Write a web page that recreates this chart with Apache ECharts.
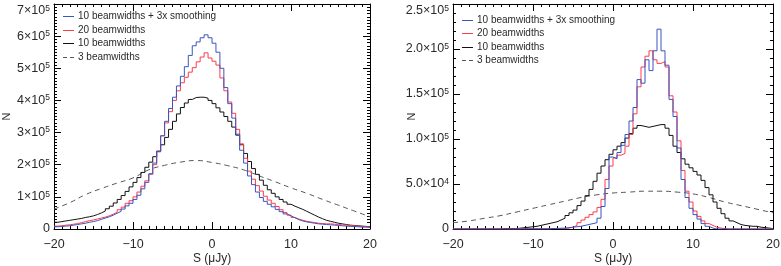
<!DOCTYPE html>
<html lang="en">
<head>
    <meta charset="UTF-8">
    <title>source counts</title>
    <script type="text/javascript" src="https://cdn.jsdelivr.net/npm/echarts@6/dist/echarts.min.js"></script>
</head>
<body style="margin:0">
    <div id="main" style="width: 781px; height: 266px"></div>
    <script type="text/javascript">
        // histogram bins: 0.5 uJy wide, from -20 to 20; values in units of 1e5
        var binStart = -20, binWidth = 0.5;
        var names = ['10 beamwidths + 3x smoothing', '20 beamwidths', '10 beamwidths', '3 beamwidths'];

        var leftBlue = [0.07,0.08,0.09,0.10,0.12,0.14,0.16,0.18,0.21,0.23,0.26,0.30,0.34,0.38,0.43,0.49,0.55,0.62,0.72,0.80,
            0.92,1.05,1.25,1.45,1.72,2.05,2.42,2.90,3.35,3.75,4.10,4.45,4.75,5.05,5.40,5.70,5.82,5.95,6.04,5.95,
            5.78,5.50,5.00,4.40,3.90,3.45,2.95,2.45,2.05,1.65,1.38,1.15,0.98,0.86,0.77,0.69,0.61,0.54,0.47,0.41,
            0.35,0.29,0.25,0.22,0.20,0.18,0.16,0.15,0.14,0.13,0.12,0.11,0.10,0.09,0.08,0.08,0.07,0.06,0.06,0.05];
        var leftRed = [0.09,0.10,0.12,0.13,0.15,0.17,0.20,0.23,0.26,0.28,0.31,0.34,0.37,0.41,0.46,0.52,0.60,0.68,0.80,0.88,
            1.00,1.15,1.33,1.50,1.70,2.00,2.40,2.90,3.30,3.65,4.00,4.30,4.55,4.72,4.88,5.02,5.20,5.35,5.48,5.32,
            5.22,5.10,4.70,4.30,3.95,3.60,3.10,2.65,2.20,1.80,1.55,1.35,1.18,1.02,0.90,0.80,0.70,0.60,0.51,0.43,
            0.36,0.31,0.27,0.24,0.22,0.20,0.18,0.17,0.16,0.16,0.15,0.14,0.13,0.12,0.11,0.10,0.09,0.08,0.07,0.07];
        var leftBlack = [0.21,0.23,0.25,0.27,0.29,0.31,0.33,0.36,0.38,0.41,0.45,0.50,0.56,0.63,0.71,0.81,0.92,1.04,1.17,1.31,
            1.45,1.60,1.76,1.92,2.08,2.25,2.42,2.62,2.85,3.10,3.35,3.58,3.78,3.92,4.03,4.09,4.10,4.10,4.07,4.00,
            3.90,3.77,3.64,3.50,3.35,3.17,2.92,2.62,2.35,2.10,1.88,1.70,1.52,1.36,1.22,1.11,1.00,0.92,0.84,0.77,
            0.71,0.66,0.61,0.55,0.49,0.43,0.37,0.32,0.27,0.24,0.21,0.18,0.16,0.14,0.12,0.11,0.10,0.09,0.08,0.07];
        var dashX = [-20,-18,-16,-14,-12,-10,-8,-6,-4,-2,0,2,4,6,8,10,12,14,16,18,20];
        var leftDash = [0.62,0.82,1.07,1.26,1.43,1.59,1.84,1.98,2.08,2.13,2.07,1.97,1.84,1.65,1.47,1.28,1.11,0.92,0.74,0.56,0.38];

        var rightBlue = [0,0,0,0,0,0,0,0,0,0,0,0,0,0,0,0,0.003,0.003,0.003,0.003,
            0.003,0.003,0.003,0.003,0.005,0.006,0.008,0.01,0.015,0.02,0.025,0.03,0.04,0.05,0.06,0.07,0.12,0.25,0.45,0.80,
            0.78,0.85,0.93,1.05,1.20,1.35,1.66,1.62,1.88,1.76,1.98,2.22,1.98,1.82,1.44,1.25,0.90,0.55,0.35,0.23,
            0.16,0.11,0.06,0.03,0.01,0,0,0,0,0,0,0,0,0,0,0,0,0,0,0];
        var rightRed = [0,0,0,0,0,0,0,0,0,0,0,0,0,0,0,0,0,0,0,0,
            0,0,0,0,0.005,0.005,0.005,0.005,0.01,0.02,0.04,0.07,0.10,0.13,0.16,0.19,0.24,0.33,0.55,0.70,
            0.79,0.82,0.84,0.92,1.05,1.28,1.58,1.80,1.92,1.98,1.88,1.84,1.86,1.80,1.48,1.30,0.98,0.65,0.42,0.30,
            0.20,0.14,0.09,0.06,0.04,0.02,0.01,0.005,0,0,0,0,0,0,0,0,0,0,0,0];
        var rightBlack = [0,0,0,0,0,0,0,0,0,0,0,0,0.005,0.005,0.005,0.005,0.01,0.015,0.02,0.025,
            0.03,0.04,0.05,0.06,0.07,0.08,0.10,0.12,0.15,0.18,0.21,0.26,0.31,0.37,0.44,0.53,0.62,0.70,0.77,0.83,
            0.88,0.92,0.96,1.01,1.06,1.12,1.15,1.14,1.13,1.14,1.15,1.16,1.16,1.12,1.04,0.92,0.85,0.78,0.72,0.68,
            0.64,0.60,0.54,0.46,0.38,0.30,0.23,0.17,0.12,0.09,0.07,0.05,0.04,0.035,0.03,0.03,0.02,0.015,0.01,0.005];
        var rightDash = [0.07,0.09,0.12,0.15,0.19,0.23,0.27,0.31,0.35,0.38,0.40,0.41,0.42,0.42,0.41,0.39,0.35,0.30,0.26,0.22,0.18];

        var colors = ['#3a55c0', '#ff3b4a', '#111111', '#555555'];

        function steps(vals) {
            var out = vals.map(function (v, i) { return [binStart + i * binWidth, v]; });
            out.push([binStart + vals.length * binWidth, vals[vals.length - 1]]);
            return out;
        }
        function pairs(xs, ys) {
            return xs.map(function (x, i) { return [x, ys[i]]; });
        }

        var font = 'Liberation Sans';
        var textColor = '#2a2a2a';
        // superscript sits at the top of the line box, so the base text stays centred on the tick
        var supRich = {
            b: {fontFamily: font, fontSize: 12.5, lineHeight: 14, color: textColor},
            s: {fontFamily: font, fontSize: 8.5, lineHeight: 6, verticalAlign: 'top', color: textColor}
        };

        function leftLabel(v) {
            if (v === 0) return '{b|0}';
            return '{b|' + Math.round(v) + '×10}{s|5}';
        }
        function rightLabel(v) {
            if (v === 0) return '{b|0}';
            if (v < 1) return '{b|' + (v * 10).toFixed(1) + '×10}{s|4}';
            return '{b|' + v.toFixed(1) + '×10}{s|5}';
        }
        function xLabel(v) {
            return v < 0 ? '\u2212' + (-v) : String(v);
        }

        function xAxis(grid, pos, labels) {
            return {
                type: 'value', gridIndex: grid, position: pos, min: -20, max: 20, interval: 10,
                axisLine: {onZero: false, lineStyle: {color: '#000', width: 1}},
                axisTick: {inside: true, length: 7, lineStyle: {color: '#000'}},
                minorTick: {show: true, splitNumber: 10, length: 3, lineStyle: {color: '#000'}},
                splitLine: {show: false},
                axisLabel: {show: labels, formatter: xLabel, fontFamily: font, fontSize: 12.5, color: textColor, margin: 9},
                name: labels ? 'S (μJy)' : '', nameLocation: 'middle', nameGap: 24, nameMoveOverlap: false,
                nameTextStyle: {fontFamily: font, fontSize: 12, color: textColor}
            };
        }
        function yAxis(grid, pos, max, interval, minor, fmt) {
            return {
                type: 'value', gridIndex: grid, position: pos, min: 0, max: max, interval: interval,
                axisLine: {show: true, onZero: false, lineStyle: {color: '#000', width: 1}},
                axisTick: {inside: true, length: 7, lineStyle: {color: '#000'}},
                minorTick: {show: true, splitNumber: minor, length: 3, lineStyle: {color: '#000'}},
                splitLine: {show: false},
                axisLabel: {show: !!fmt, formatter: fmt, rich: supRich, margin: 4, verticalAlignMaxLabel: 'top'},
                name: fmt ? 'N' : '', nameLocation: 'middle', nameGap: fmt === leftLabel ? 42 : 36,
                nameMoveOverlap: false,
                nameTextStyle: {fontFamily: font, fontSize: 11, color: textColor}
            };
        }

        function histSeries(name, vals, ax, color) {
            return {
                name: name, type: 'line', step: 'end', symbol: 'none', xAxisIndex: ax, yAxisIndex: ax,
                data: steps(vals), lineStyle: {color: color, width: 1}, itemStyle: {color: color},
                silent: true, animation: false
            };
        }
        function dashSeries(name, vals, ax) {
            return {
                name: name, type: 'line', smooth: true, symbol: 'none', xAxisIndex: ax, yAxisIndex: ax,
                data: pairs(dashX, vals), lineStyle: {color: colors[3], width: 1, type: [5, 4]},
                itemStyle: {color: colors[3]}, silent: true, animation: false
            };
        }

        // hand-drawn legend (IDL style: short line sample + label)
        function legendGraphics(tag, x0, y0) {
            var out = [];
            names.forEach(function (n, i) {
                var y = y0 + i * 13.5;
                out.push({
                    type: 'line', id: tag + 'l' + i, silent: true,
                    shape: {x1: x0, y1: Math.round(y) + 0.5, x2: x0 + 11, y2: Math.round(y) + 0.5},
                    style: {stroke: colors[i], lineWidth: 1, lineDash: i === 3 ? [4, 3] : [0, 0]}
                });
                out.push({
                    type: 'text', id: tag + 't' + i, silent: true, x: x0 + 15, y: y + 0.5,
                    style: {text: n, font: '10px "Liberation Sans"', fill: textColor, verticalAlign: 'middle'}
                });
            });
            return out;
        }

        var myChart = echarts.init(document.getElementById('main'));
        var option = {
            animation: false,
            grid: [
                {left: 54, right: 411, top: 4, bottom: 37, outerBoundsMode: 'none'},
                {left: 453, right: 8, top: 4, bottom: 37, outerBoundsMode: 'none'}
            ],
            graphic: legendGraphics('a', 63, 16).concat(legendGraphics('b', 462, 19.5)),
            xAxis: [xAxis(0, 'bottom', true), xAxis(0, 'top', false), xAxis(1, 'bottom', true), xAxis(1, 'top', false)],
            yAxis: [
                yAxis(0, 'left', 7, 1, 10, leftLabel), yAxis(0, 'right', 7, 1, 10, null),
                yAxis(1, 'left', 2.5, 0.5, 5, rightLabel), yAxis(1, 'right', 2.5, 0.5, 5, null)
            ],
            series: [
                dashSeries(names[3], leftDash, 0),
                histSeries(names[2], leftBlack, 0, colors[2]),
                histSeries(names[1], leftRed, 0, colors[1]),
                histSeries(names[0], leftBlue, 0, colors[0]),
                dashSeries(names[3], rightDash, 2),
                histSeries(names[2], rightBlack, 2, colors[2]),
                histSeries(names[1], rightRed, 2, colors[1]),
                histSeries(names[0], rightBlue, 2, colors[0])
            ]
        };
        myChart.setOption(option);
    </script>
</body>
</html>
